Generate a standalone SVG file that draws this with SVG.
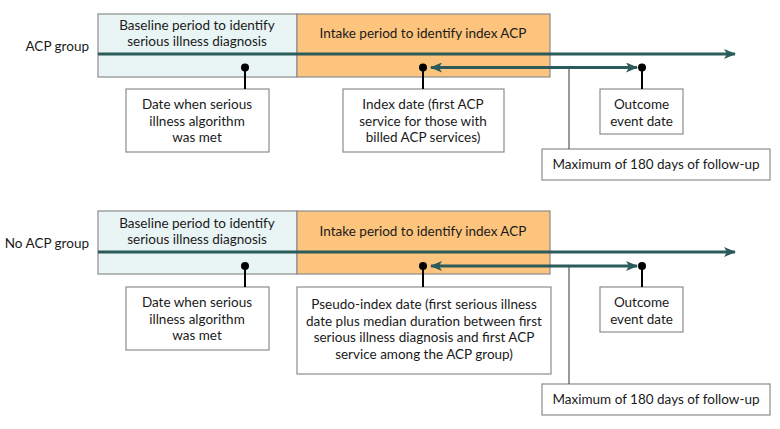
<svg xmlns="http://www.w3.org/2000/svg" width="780" height="429" viewBox="0 0 780 429">
<style>
text{font-family:Lato,"Liberation Sans",sans-serif;font-size:13.5px;fill:#1a1a1a}
.c{text-anchor:middle}
.base{fill:#e9f4f5;stroke:#8c8c8c;stroke-width:1.2}
.intake{fill:#fdc47e;stroke:#8c8c8c;stroke-width:1.2}
.box{fill:#fff;stroke:#8c8c8c;stroke-width:1.2}
.tl{stroke:#2b5b5b;stroke-width:3;fill:none}
.stem{stroke:#000;stroke-width:2}
.thin{stroke:#555;stroke-width:1.2}
</style>
<defs>
<marker id="ah" viewBox="0 0 12 10" refX="11" refY="5" markerWidth="12" markerHeight="10" markerUnits="userSpaceOnUse" orient="auto-start-reverse">
<path d="M0,0 L12,5 L0,10 L3,5 Z" fill="#2b5b5b"/>
</marker>
</defs>

<!-- Top panel -->
<g id="acp-label"><text x="89" y="51" text-anchor="end">ACP group</text></g>
<g id="acp-baseline">
<rect class="base" x="98" y="14" width="199" height="63"/>
<text class="c" x="197" y="30">Baseline period to identify</text>
<text class="c" x="197" y="46">serious illness diagnosis</text>
</g>
<g id="acp-intake">
<rect class="intake" x="297" y="14" width="253" height="63"/>
<text class="c" x="423" y="38">Intake period to identify index ACP</text>
</g>
<g id="acp-date-box">
<rect class="box" x="126" y="89" width="143" height="63"/>
<text class="c" x="197" y="109">Date when serious</text>
<text class="c" x="197" y="126">illness algorithm</text>
<text class="c" x="197" y="142">was met</text>
</g>
<g id="acp-index-box">
<rect class="box" x="343" y="89" width="161" height="63"/>
<text class="c" x="423" y="109">Index date (first ACP</text>
<text class="c" x="423" y="126">service for those with</text>
<text class="c" x="423" y="142">billed ACP services)</text>
</g>
<g id="acp-outcome-box">
<rect class="box" x="600" y="89" width="83" height="45"/>
<text class="c" x="641.500" y="109">Outcome</text>
<text class="c" x="641.500" y="126">event date</text>
</g>
<g id="acp-max-box">
<rect class="box" x="542" y="149" width="228" height="31"/>
<text class="c" x="656" y="169">Maximum of 180 days of follow-up</text>
</g>

<g id="acp-connectors">
<line class="tl" x1="98" y1="54" x2="735" y2="54" marker-end="url(#ah)"/>
<line class="tl" x1="431" y1="67.500" x2="637" y2="67.500" marker-start="url(#ah)" marker-end="url(#ah)"/>
<line class="stem" x1="245" y1="67.500" x2="245" y2="89"/>
<circle cx="245" cy="67.500" r="4"/>
<line class="stem" x1="423" y1="67.500" x2="423" y2="89"/>
<circle cx="423" cy="67.500" r="4"/>
<line class="stem" x1="642" y1="67.500" x2="642" y2="89"/>
<circle cx="642" cy="67.500" r="4"/>
<line class="thin" x1="569" y1="68" x2="569" y2="149"/>
</g>

<!-- Bottom panel -->
<g id="noacp-label"><text x="89" y="248" text-anchor="end">No ACP group</text></g>
<g id="noacp-baseline">
<rect class="base" x="98" y="211" width="199" height="63"/>
<text class="c" x="197" y="228">Baseline period to identify</text>
<text class="c" x="197" y="244">serious illness diagnosis</text>
</g>
<g id="noacp-intake">
<rect class="intake" x="297" y="211" width="253" height="63"/>
<text class="c" x="423" y="236">Intake period to identify index ACP</text>
</g>
<g id="noacp-date-box">
<rect class="box" x="126" y="287" width="143" height="63"/>
<text class="c" x="197" y="307">Date when serious</text>
<text class="c" x="197" y="324">illness algorithm</text>
<text class="c" x="197" y="340">was met</text>
</g>
<g id="noacp-pseudo-box">
<rect class="box" x="297" y="287" width="254" height="87"/>
<text class="c" x="424" y="309">Pseudo-index date (first serious illness</text>
<text class="c" x="424" y="326">date plus median duration between first</text>
<text class="c" x="424" y="342">serious illness diagnosis and first ACP</text>
<text class="c" x="424" y="359">service among the ACP group)</text>
</g>
<g id="noacp-outcome-box">
<rect class="box" x="600" y="287" width="83" height="45"/>
<text class="c" x="641.500" y="307">Outcome</text>
<text class="c" x="641.500" y="324">event date</text>
</g>
<g id="noacp-max-box">
<rect class="box" x="542" y="384" width="228" height="31"/>
<text class="c" x="656" y="404">Maximum of 180 days of follow-up</text>
</g>

<g id="noacp-connectors">
<line class="tl" x1="98" y1="252" x2="735" y2="252" marker-end="url(#ah)"/>
<line class="tl" x1="431" y1="266" x2="637" y2="266" marker-start="url(#ah)" marker-end="url(#ah)"/>
<line class="stem" x1="245" y1="266" x2="245" y2="287"/>
<circle cx="245" cy="266" r="4"/>
<line class="stem" x1="423" y1="266" x2="423" y2="287"/>
<circle cx="423" cy="266" r="4"/>
<line class="stem" x1="642" y1="266" x2="642" y2="287"/>
<circle cx="642" cy="266" r="4"/>
<line class="thin" x1="569" y1="266" x2="569" y2="384"/>
</g>
</svg>
